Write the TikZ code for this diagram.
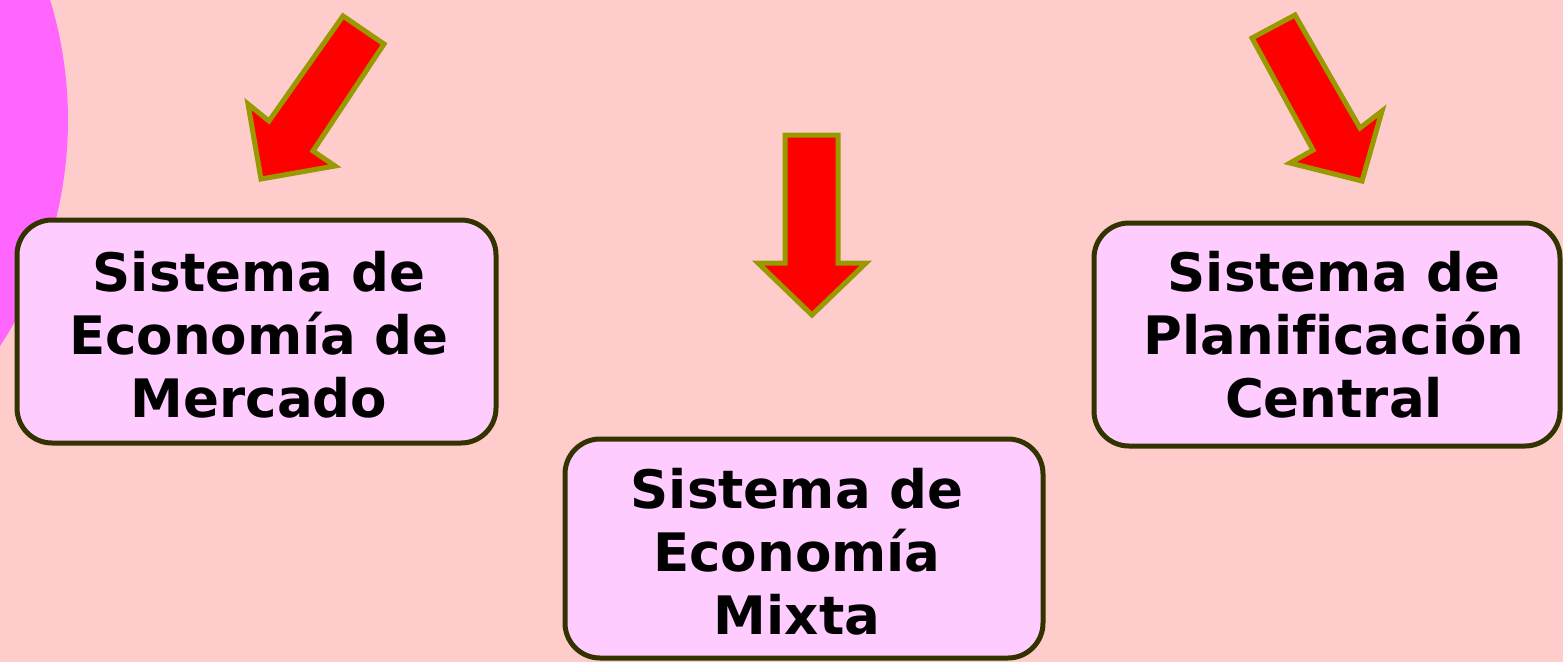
\documentclass[tikz,border=0pt]{standalone}
\usepackage{fontspec}
\setmainfont[Ligatures=NoCommon]{DejaVu Sans}
\definecolor{bgpink}{HTML}{FFCCCC}
\definecolor{boxfill}{HTML}{FFCCFF}
\definecolor{boxline}{HTML}{333300}
\definecolor{arrowline}{HTML}{999900}
\definecolor{circlemag}{HTML}{FF66FF}
\tikzset{
  sysbox/.style={draw=boxline, fill=boxfill, line width=5pt, rounded corners=35pt, inner sep=0pt},
  systext/.style={align=center, inner sep=0pt, font=\fontsize{53}{63}\selectfont\bfseries},
  blockarrow/.style={draw=arrowline, fill=red, line width=5pt, line join=miter}
}
\begin{document}
\begin{tikzpicture}[x=1pt,y=-1pt]
\useasboundingbox (0,0) rectangle (1563,662);
\clip (0,0) rectangle (1563,662);
\fill[bgpink] (0,0) rectangle (1563,662);
% magenta circle at left
\fill[circlemag] (-341,120) circle[radius=409];
% boxes
\node[sysbox, minimum width=479pt, minimum height=223pt] (b1) at (256.5,331.5) {};
\node[sysbox, minimum width=478pt, minimum height=219pt] (b2) at (804,548.5) {};
\node[sysbox, minimum width=466pt, minimum height=223pt] (b3) at (1327,334.5) {};
\node[systext] (t1) at (259,335) {Sistema de\\Economía de\\Mercado};
\node[systext] (t2) at (797,552) {Sistema de\\Economía\\Mixta};
\node[systext] (t3) at (1334,335) {Sistema de\\Planificación\\Central};
% block arrows
\draw[blockarrow] (343,16) -- (384,44) -- (313,151) -- (335,166) -- (261,179) -- (248,104) -- (269,121) -- cycle;
\draw[blockarrow] (785,135) -- (838,135) -- (838,263) -- (866,263) -- (812,315) -- (758,263) -- (785,263) -- cycle;
\draw[blockarrow] (1252,38) -- (1295,15) -- (1360,128) -- (1382,111) -- (1362,181) -- (1290,163) -- (1313,150) -- cycle;
\end{tikzpicture}
\end{document}
